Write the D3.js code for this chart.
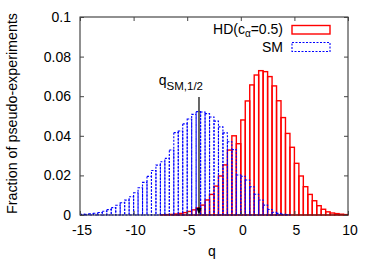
<!DOCTYPE html>
<html><head><meta charset="utf-8">
<script src="https://cdn.jsdelivr.net/npm/d3@7"></script>
<style>
html,body{margin:0;padding:0;background:#fff;}
text{font-family:"Liberation Sans",Arial,Helvetica,sans-serif;fill:#000;}
</style></head>
<body><svg id="c" width="374" height="262"></svg>
<script>
// ---- data ----
const binStart = -15, binEnd = 10, nBins = 60;
const hdValues = [0,0,0,0,0,0,0,0,0,0,
  0,0,0,0,0,0,0,0,0.0001,0.0002,
  0.0003,0.0005,0.0008,0.0012,0.0018,0.0026,0.0036,0.0050,0.0076,0.0104,
  0.0146,0.0197,0.0253,0.0328,0.0400,0.0360,0.0480,0.0576,0.0657,0.0707,
  0.0729,0.0724,0.0699,0.0652,0.0577,0.0492,0.0412,0.0342,0.0261,0.0197,
  0.0143,0.0104,0.0072,0.0047,0.0029,0.0016,0.0010,0.0007,0.0004,0.0002];
const smValues = [0.0003,0.0004,0.0006,0.0009,0.0013,0.0019,0.0027,0.0037,0.0049,0.0062,
  0.0075,0.0092,0.0112,0.0138,0.0165,0.0195,0.0225,0.0252,0.0269,0.0286,
  0.0328,0.0416,0.0424,0.0460,0.0485,0.0508,0.0522,0.0520,0.0512,0.0495,
  0.0474,0.0445,0.0415,0.0370,0.0330,0.0202,0.0196,0.0177,0.0143,0.0105,
  0.0076,0.0050,0.0028,0.0014,0.0008,0.0004,0.0002,0,0,0,
  0,0,0,0,0,0,0,0,0,0];
const xTicks = [-15,-10,-5,0,5,10];
const xTickLabels = ["-15","-10","-5","0","5","10"];
const yTicks = [0,0.02,0.04,0.06,0.08,0.1];
const yTickLabels = ["0","0.02","0.04","0.06","0.08","0.1"];
const arrowQ = -3.9, arrowTop = 0.0596;

// ---- layout ----
const L=80, R=348, T=17, B=215;
const svg = d3.select("#c");
const x = d3.scaleLinear().domain([-15,10]).range([L,R]);
const y = d3.scaleLinear().domain([0,0.1]).range([B,T]);
const bw = (binEnd-binStart)/nBins;

function drawHist(vals, stroke, width, dash){
  svg.append("g").selectAll("rect").data(vals.map((v,i)=>({v,i})).filter(d=>d.v>0))
    .join("rect")
    .attr("x", d=>x(binStart+d.i*bw))
    .attr("width", d=>x(binStart+(d.i+1)*bw)-x(binStart+d.i*bw))
    .attr("y", d=>y(d.v))
    .attr("height", d=>y(0)-y(d.v))
    .attr("fill","none").attr("stroke",stroke).attr("stroke-width",width)
    .attr("stroke-dasharray",dash||null);
}
drawHist(hdValues,"#ff0000",1.4,null);
drawHist(smValues,"#0000ff",1.1,"2,1.5");

// frame
svg.append("rect").attr("x",L).attr("y",T).attr("width",R-L).attr("height",B-T)
  .attr("fill","none").attr("stroke","#222").attr("stroke-width",1);

function styleAxis(g){ g.select(".domain").remove(); g.selectAll(".tick line").attr("stroke","#444");
  g.selectAll("text").style("font-size","14px").attr("font-family",null); }
svg.append("g").attr("transform",`translate(0,${B})`)
  .call(d3.axisBottom(x).tickValues(xTicks).tickFormat((d,i)=>xTickLabels[i]).tickSize(-4).tickPadding(10.5))
  .call(styleAxis).selectAll("text").attr("dx","1.5");
svg.append("g").attr("transform",`translate(0,${T})`)
  .call(d3.axisTop(x).tickValues(xTicks).tickFormat("").tickSize(-4)).call(styleAxis);
svg.append("g").attr("transform",`translate(${L},0)`)
  .call(d3.axisLeft(y).tickValues(yTicks).tickFormat((d,i)=>yTickLabels[i]).tickSize(-4).tickPadding(9))
  .call(styleAxis);
svg.append("g").attr("transform",`translate(${R},0)`)
  .call(d3.axisRight(y).tickValues(yTicks).tickFormat("").tickSize(-4)).call(styleAxis);

// axis titles
svg.append("text").attr("x",(L+R)/2-2).attr("y",256).attr("text-anchor","middle")
  .style("font-size","14px").text("q");
svg.append("text").attr("transform","translate(17,113.5) rotate(-90)").attr("text-anchor","middle")
  .style("font-size","14.3px").text("Fraction of pseudo-experiments");

// arrow
const ax = x(arrowQ);
svg.append("line").attr("x1",ax).attr("x2",ax).attr("y1",y(arrowTop)).attr("y2",y(0)-5)
  .attr("stroke","#000").attr("stroke-width",1.2);
svg.append("path").attr("d",`M${ax-2.5},${y(0)-7}L${ax+2.5},${y(0)-7}L${ax},${y(0)}Z`).attr("fill","#000");
const lab = svg.append("text").attr("x",ax+4).attr("y",85).attr("text-anchor","end").style("font-size","14px");
lab.append("tspan").text("q");
lab.append("tspan").attr("dy",5).style("font-size","11.5px").text("SM,1/2");

// legend
const lg = svg.append("g");
const t1 = lg.append("text").attr("x",283).attr("y",33.5).attr("text-anchor","end").style("font-size","14px");
t1.append("tspan").text("HD(c");
t1.append("tspan").attr("dy",3.5).style("font-size","10px").text("α");
t1.append("tspan").attr("dy",-3.5).text("=0.5)");
lg.append("rect").attr("x",292).attr("y",25.5).attr("width",38).attr("height",8.5)
  .attr("fill","none").attr("stroke","#ff0000").attr("stroke-width",1.4);
lg.append("text").attr("x",283).attr("y",51.5).attr("text-anchor","end").style("font-size","14px").text("SM");
lg.append("rect").attr("x",292).attr("y",42.5).attr("width",38).attr("height",9)
  .attr("fill","none").attr("stroke","#0000ff").attr("stroke-width",1.1).attr("stroke-dasharray","2,1.5");
</script></body></html>
